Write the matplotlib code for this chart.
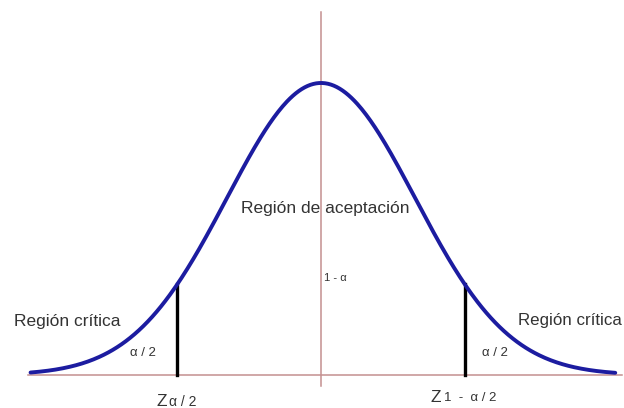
import numpy as np
import matplotlib.pyplot as plt

plt.rcParams['font.family'] = ['Liberation Sans', 'DejaVu Sans']

# Distribution and critical values (standard normal, two tails)
mu = 0.0
sigma = 1.0
z_crit = 1.53
z_range = (-3.09, 3.13)
axis_x_range = (-3.12, 3.2)
axis_y_range = (-0.015, 0.496)

# Labels
lbl_accept = 'Región de aceptación'
lbl_critical = 'Región crítica'
lbl_conf = '1 - α'
lbl_tail = 'α / 2'
lbl_tail_upper = '1  -  α / 2'

curve_color = '#1c1ca0'
axis_color = '#c49090'
text_color = '#333333'


def normal_pdf(x):
    return np.exp(-0.5 * ((x - mu) / sigma) ** 2) / (sigma * np.sqrt(2 * np.pi))


x = np.linspace(z_range[0], z_range[1], 400)
y = normal_pdf(x)

fig = plt.figure(figsize=(6.24, 4.08), dpi=100)
ax = fig.add_axes([0, 0, 1, 1])
ax.set_xlim(-3.415, 3.223)
ax.set_ylim(-0.0451, 0.5123)
ax.axis('off')

# axes lines
ax.plot(axis_x_range, [0, 0], color=axis_color, lw=1.1, zorder=1)
ax.plot([mu, mu], axis_y_range, color=axis_color, lw=1.1, zorder=1)

# curve
ax.plot(x, y, color=curve_color, lw=2.8, solid_capstyle='round', zorder=3)

# critical value lines
for zc in (-z_crit, z_crit):
    ax.plot([zc, zc], [0, normal_pdf(zc)], color='black', lw=2.4, zorder=2)

# texts
ax.text(0.043, 0.2268, lbl_accept, fontsize=12.5, color=text_color,
        ha='center', va='center')
ax.text(0.03, 0.1325, lbl_conf, fontsize=8, color=text_color,
        ha='left', va='center')
ax.text(-3.266, 0.0724, lbl_critical, fontsize=12.5, color=text_color,
        ha='left', va='center')
ax.text(3.2, 0.0751, lbl_critical, fontsize=12.2, color=text_color,
        ha='right', va='center')
ax.text(-2.03, 0.030, lbl_tail, fontsize=9.5, color=text_color,
        ha='left', va='center')
ax.text(1.713, 0.030, lbl_tail, fontsize=9.5, color=text_color,
        ha='left', va='center')

# Z labels
ax.text(-1.745, -0.0368, 'Z', fontsize=12.5, color=text_color,
        ha='left', va='center')
ax.text(-1.62, -0.0368, lbl_tail, fontsize=10, color=text_color,
        ha='left', va='center')
ax.text(1.16, -0.0314, 'Z', fontsize=12.5, color=text_color,
        ha='left', va='center')
ax.text(1.31, -0.0314, lbl_tail_upper, fontsize=9.5, color=text_color,
        ha='left', va='center')

fig.savefig('out.png', dpi=100, facecolor='white')
